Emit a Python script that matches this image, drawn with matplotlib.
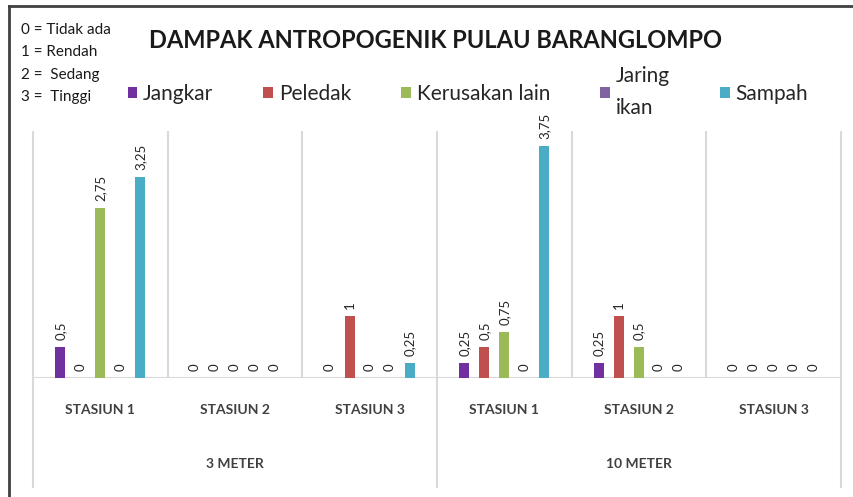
import matplotlib
matplotlib.use('Agg')
import matplotlib.pyplot as plt
from matplotlib.lines import Line2D
import numpy as np

plt.rcParams['font.family'] = ['Lato', 'DejaVu Sans']

stations = ['STASIUN 1', 'STASIUN 2', 'STASIUN 3', 'STASIUN 1', 'STASIUN 2', 'STASIUN 3']
depths = ['3 METER', '10 METER']
series = ['Jangkar', 'Peledak', 'Kerusakan lain', 'Jaring\nikan', 'Sampah']
colors = ['#7030A0', '#C0504D', '#9BBB59', '#8064A2', '#4BACC6']

jangkar = [0.5, 0, 0, 0.25, 0.25, 0]
peledak = [0, 0, 1, 0.5, 1, 0]
kerusakan = [2.75, 0, 0, 0.75, 0.5, 0]
jaring = [0, 0, 0, 0, 0, 0]
sampah = [3.25, 0, 0.25, 3.75, 0, 0]

notes = ['0 = Tidak ada', '1 = Rendah', '2 =  Sedang', '3 =  Tinggi']

values = [jangkar, peledak, kerusakan, jaring, sampah]

W, H = 854, 497
fig = plt.figure(figsize=(W / 100, H / 100), dpi=100)
ax = fig.add_axes([33 / W, 1 - 378 / H, (841 - 33) / W, (378 - 131) / H])

x = np.arange(len(stations))
step = 0.1485
grid_c = '#D9D9D9'
for i, (name, vals) in enumerate(zip(series, values)):
    bars = ax.bar(x + (i - 2) * step, vals, width=0.074, color=colors[i], label=name, zorder=3)
    labs = [('%g' % v).replace('.', ',') for v in vals]
    ax.bar_label(bars, labels=labs, rotation=90, padding=5, fontsize=9.5, color='#262626')

ax.set_xlim(-0.5, 5.5)
ax.set_ylim(0, 4)
ax.set_yticks([])
for s in ax.spines.values():
    s.set_visible(False)
ax.axhline(0, color=grid_c, lw=1.5, zorder=2)

ax.set_xticks(x)
ax.set_xticklabels(stations, fontsize=10, fontweight='bold', color='#404040')
ax.tick_params(axis='x', length=0, pad=19)

tr = ax.get_xaxis_transform()
ax.vlines([0.5, 1.5, 3.5, 4.5], 0, 1, transform=tr, colors=grid_c, lw=1.5, zorder=1)
ax.vlines([-0.5, 2.5, 5.5], -0.445, 1, transform=tr, colors=grid_c, lw=1.5, zorder=1, clip_on=False)

for j, d in enumerate(depths):
    ax.text(1 + 3 * j, -0.348, d, transform=tr, ha='center', va='center',
            fontsize=10, fontweight='bold', color='#404040')

fig.text(0.5 * (133 + 738) / W, 1 - 40 / H, 'DAMPAK ANTROPOGENIK PULAU BARANGLOMPO',
         ha='center', va='center', fontsize=17, fontweight='bold', color='#1a1a1a')

for k, n in enumerate(notes):
    fig.text(21 / W, 1 - (30 + k * 22.5) / H, n, ha='left', va='center', fontsize=11, color='#1a1a1a')

leg = fig.legend(loc='center', bbox_to_anchor=(468 / W, 1 - 92 / H), ncol=5, frameon=False,
                 fontsize=15, handlelength=0.45, handleheight=0.45, handletextpad=0.3,
                 columnspacing=2.4, labelcolor='#262626')
leg.get_texts()[3].set_linespacing(1.7)

fig.add_artist(Line2D([9 / W, 1], [1 - 6 / H] * 2, color='#404040', lw=2))
fig.add_artist(Line2D([9 / W] * 2, [0, 1 - 6 / H], color='#404040', lw=2))

fig.savefig('out.png', dpi=100)
